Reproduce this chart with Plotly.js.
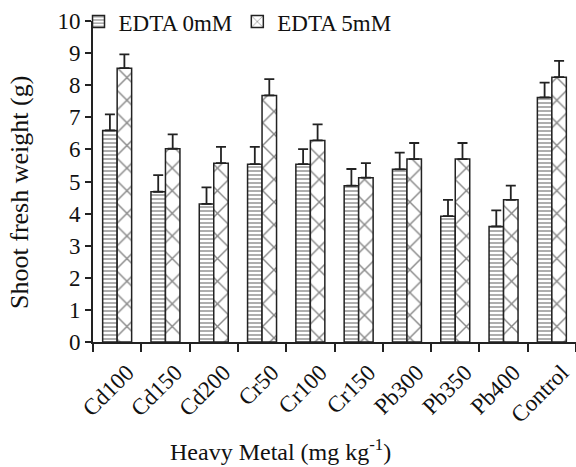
<!DOCTYPE html>
<html>
<head>
<meta charset="utf-8">
<script src="https://cdn.plot.ly/plotly-3.0.1.min.js"></script>
<style>html,body{margin:0;padding:0;background:#fff;}#chart{width:576px;height:467px;}</style>
</head>
<body>
<div id="chart"></div>
<script>
const categories = ["Cd100","Cd150","Cd200","Cr50","Cr100","Cr150","Pb300","Pb350","Pb400","Control"];
const edta0 = [6.59, 4.68, 4.30, 5.54, 5.54, 4.87, 5.38, 3.92, 3.60, 7.62];
const edta0Err = [0.50, 0.52, 0.52, 0.54, 0.47, 0.52, 0.52, 0.51, 0.50, 0.46];
const edta5 = [8.53, 6.02, 5.57, 7.68, 6.28, 5.12, 5.70, 5.70, 4.43, 8.25];
const edta5Err = [0.43, 0.45, 0.51, 0.51, 0.50, 0.45, 0.50, 0.50, 0.44, 0.51];
const seriesNames = ["EDTA 0mM", "EDTA 5mM"];
const yTicks = [0,1,2,3,4,5,6,7,8,9,10];
const xTitle = "Heavy Metal (mg kg<sup>-1</sup>)";
const yTitle = "Shoot fresh weight (g)";

const zeros = categories.map(() => 0);
const font = "'Liberation Serif', 'Times New Roman', serif";

const traces = [
  {
    type: "bar", name: seriesNames[0], x: categories, y: edta0,
    marker: {color: "white", line: {color: "#222", width: 1.5},
      pattern: {shape: "-", size: 4, solidity: 0.4, fgcolor: "#333", bgcolor: "white", fillmode: "overlay"}},
    error_y: {type: "data", symmetric: false, array: edta0Err, arrayminus: zeros, color: "#222", thickness: 1.8, width: 5}
  },
  {
    type: "bar", name: seriesNames[1], x: categories, y: edta5,
    marker: {color: "white", line: {color: "#222", width: 1.5},
      pattern: {shape: "x", size: 16, solidity: 0.17, fgcolor: "#111", bgcolor: "white", fillmode: "overlay"}},
    error_y: {type: "data", symmetric: false, array: edta5Err, arrayminus: zeros, color: "#222", thickness: 1.8, width: 5}
  }
];

const H = 467, T = 19, B = 125, L = 93, R = 0;
const plotH = H - T - B, plotW = 576 - L - R;

const layout = {
  width: 576, height: H,
  margin: {l: L, r: R, t: T, b: B},
  paper_bgcolor: "white", plot_bgcolor: "white",
  font: {family: font, size: 23, color: "#111"},
  barmode: "group", bargap: 0.4, bargroupgap: 0,
  showlegend: true,
  legend: {orientation: "h", x: -0.03, xanchor: "left", y: 1.065, yanchor: "top",
    font: {family: font, size: 23, color: "#111"}, bgcolor: "rgba(0,0,0,0)", itemwidth: 30, tracegroupgap: 0},
  xaxis: {
    type: "category", tickangle: -45, tickson: "boundaries", ticks: "outside", ticklen: 8, tickwidth: 2,
    tickcolor: "#222", showline: true, linecolor: "#222", linewidth: 2, showgrid: false, zeroline: false,
    tickfont: {family: font, size: 23, color: "#111"}, automargin: false,
    ticklabelshift: 10, ticklabelstandoff: 6
  },
  yaxis: {
    range: [0, 10], tickvals: yTicks, ticks: "outside", ticklen: 6, tickwidth: 2, tickcolor: "#222",
    showline: true, linecolor: "#222", linewidth: 2, showgrid: false, zeroline: false,
    tickfont: {family: font, size: 23, color: "#111"}, automargin: false
  },
  annotations: [
    {text: xTitle, xref: "paper", yref: "paper", x: (280 - L) / plotW, y: -(451 - (H - B)) / plotH,
     xanchor: "center", yanchor: "middle", showarrow: false, font: {family: font, size: 24, color: "#111"}},
    {text: yTitle, xref: "paper", yref: "paper", x: (20 - L) / plotW, y: 1 - (192 - T) / plotH,
     xanchor: "center", yanchor: "middle", textangle: -90, showarrow: false, font: {family: font, size: 26, color: "#111"}}
  ]
};

Plotly.newPlot("chart", traces, layout, {displayModeBar: false, staticPlot: true});
</script>
</body>
</html>
